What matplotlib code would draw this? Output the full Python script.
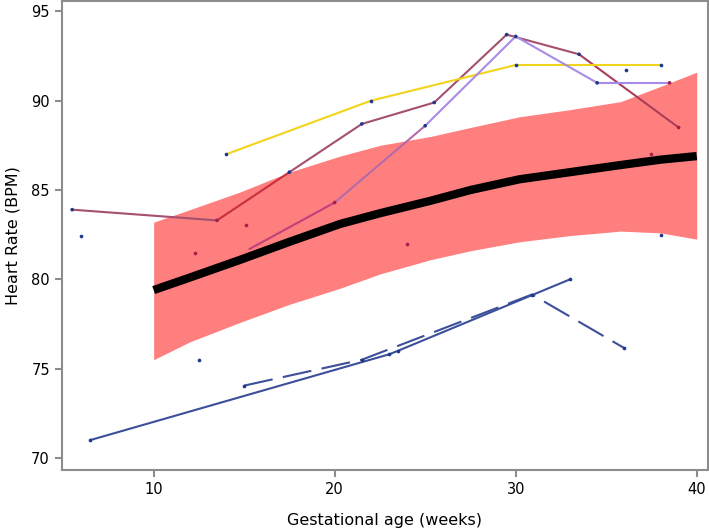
import numpy as np
import matplotlib.pyplot as plt

# fitted curve and its band
fit_x = [10, 12, 14.8, 17.5, 20.3, 22.5, 25.3, 27.5, 30.2, 33, 35.8, 38, 40]
fit_y = [79.4, 80.1, 81.1, 82.1, 83.1, 83.7, 84.4, 85.0, 85.6, 86.0, 86.4, 86.7, 86.9]
band_hi = [83.2, 83.9, 84.9, 86.0, 86.9, 87.5, 88.0, 88.5, 89.1, 89.5, 89.95, 90.8, 91.6]
band_lo = [75.5, 76.5, 77.6, 78.6, 79.5, 80.3, 81.1, 81.6, 82.1, 82.45, 82.7, 82.6, 82.25]

# individual subjects
mauve_x = [5.5, 13.5, 17.5, 21.5, 25.5, 29.5, 33.5, 39.0]
mauve_y = [83.9, 83.3, 86.0, 88.7, 89.9, 93.7, 92.6, 88.5]
mauve_dot = ['b', 'r', 'b', 'b', 'b', 'b', 'b', 'r']

yellow_x = [14.0, 22.0, 30.0, 38.0]
yellow_y = [87.0, 90.0, 92.0, 92.0]

lav_x = [15.3, 20.0, 25.0, 30.0, 34.5, 38.5]
lav_y = [81.7, 84.3, 88.6, 93.6, 91.0, 91.0]
lav_dot = ['r', 'r', 'b', 'b', 'b', 'r']

solid_x = [6.5, 23.0, 23.5, 33.0]
solid_y = [71.0, 75.8, 76.0, 80.0]

dash_x = [15.0, 21.5, 30.9, 36.0]
dash_y = [74.05, 75.5, 79.15, 76.15]

blue_pts_x = [6.0, 12.5, 36.1, 38.0]
blue_pts_y = [82.4, 75.5, 91.7, 82.5]
red_pts_x = [12.3, 15.1, 24.0, 37.5]
red_pts_y = [81.5, 83.05, 82.0, 87.0]

BLUE = '#1f3a8a'
RED = '#a3204c'
dotc = {'b': BLUE, 'r': RED}

fig = plt.figure(figsize=(7.09, 5.28), dpi=100)
ax = fig.add_axes([0.087, 0.110, 0.911, 0.888])

ax.fill_between(fit_x, band_lo, band_hi, color='#ff7f7f', lw=0, zorder=1)

# mauve subject, one red segment
mc = ['#a4506e', '#c83040', '#a4506e', '#a4506e', '#a4506e', '#a4506e', '#a83e58']
for i in range(len(mauve_x) - 1):
    ax.plot(mauve_x[i:i+2], mauve_y[i:i+2], color=mc[i], lw=1.5, zorder=3)

ax.plot(yellow_x, yellow_y, color='#f2d41c', lw=1.5, zorder=3)

lc = ['#c0407c', '#b46aaa', '#a78be6', '#a78be6', '#a78be6']
for i in range(len(lav_x) - 1):
    ax.plot(lav_x[i:i+2], lav_y[i:i+2], color=lc[i], lw=1.5, zorder=3)

ax.plot(solid_x, solid_y, color='#3c4f9a', lw=1.5, zorder=3)
ax.plot(dash_x, dash_y, color='#3c4f9a', lw=1.5, ls=(0, (14, 5)), zorder=3)

ax.plot(fit_x, fit_y, color='black', lw=6, solid_capstyle='butt',
        solid_joinstyle='round', zorder=4)

# dots
ax.scatter(mauve_x, mauve_y, s=7, c=[dotc[d] for d in mauve_dot], zorder=5, lw=0)
ax.scatter(lav_x[1:], lav_y[1:], s=7, c=[dotc[d] for d in lav_dot[1:]], zorder=5, lw=0)
ax.scatter(yellow_x, yellow_y, s=7, c=BLUE, zorder=5, lw=0)
ax.scatter(solid_x, solid_y, s=7, c=BLUE, zorder=5, lw=0)
ax.scatter(dash_x, dash_y, s=7, c=BLUE, zorder=5, lw=0)
ax.scatter(blue_pts_x, blue_pts_y, s=7, c=BLUE, zorder=5, lw=0)
ax.scatter(red_pts_x, red_pts_y, s=7, c=RED, zorder=5, lw=0)

ax.set_xlim(4.92, 40.6)
ax.set_ylim(69.33, 95.58)
ax.set_xticks([10, 20, 30, 40])
ax.set_yticks([70, 75, 80, 85, 90, 95])

for s in ax.spines.values():
    s.set_color('#8c8c8c')
    s.set_linewidth(1.5)
ax.tick_params(colors='#8c8c8c', labelcolor='black', labelsize=10.5, length=5, width=1.5)

ax.set_xlabel('Gestational age (weeks)', fontsize=11.5, labelpad=12)
ax.set_ylabel('Heart Rate (BPM)', fontsize=11.5, labelpad=8)

fig.savefig('out.png', dpi=100)
